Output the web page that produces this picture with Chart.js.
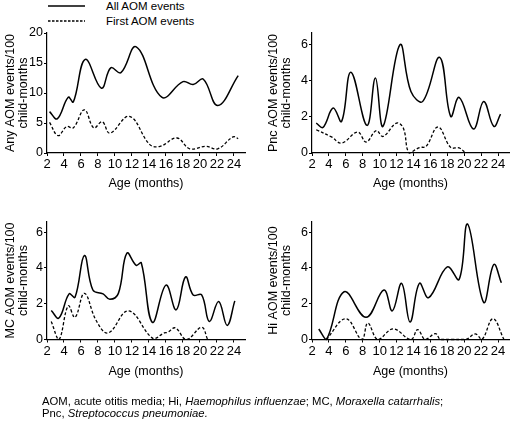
<!DOCTYPE html>
<html>
<head>
<meta charset="utf-8">
<script src="https://cdn.jsdelivr.net/npm/chart.js@4"></script>
<style>
  body { margin: 0; background: #fff; font-family: "Liberation Sans", Arial, sans-serif; color: #000; }
  #wrap { position: relative; width: 510px; height: 422px; overflow: hidden; }
  .panel { position: absolute; width: 255px; height: 200px; }
  .leg { position: absolute; font-size: 11.5px; line-height: 14px; }
  #caption { position: absolute; left: 42px; top: 395px; font-size: 11.3px; line-height: 12px; }
</style>
</head>
<body>
<div id="wrap">
  <svg style="position:absolute;left:0;top:0" width="100" height="30">
    <line x1="48" y1="6" x2="85" y2="6" stroke="#000" stroke-width="1.5"/>
    <line x1="48" y1="21" x2="85" y2="21" stroke="#000" stroke-width="1.3" stroke-dasharray="2.5,1.5"/>
  </svg>
  <div class="leg" style="left:106px;top:-1px">All AOM events</div>
  <div class="leg" style="left:106px;top:14px">First AOM events</div>

  <div class="panel" style="left:0;top:0"><canvas id="c1"></canvas></div>
  <div class="panel" style="left:255px;top:0"><canvas id="c2"></canvas></div>
  <div class="panel" style="left:0;top:188px"><canvas id="c3"></canvas></div>
  <div class="panel" style="left:255px;top:188px"><canvas id="c4"></canvas></div>

  <div id="caption">AOM, acute otitis media; Hi, <i>Haemophilus influenzae</i>; MC, <i>Moraxella catarrhalis</i>;<br>Pnc, <i>Streptococcus pneumoniae.</i></div>
</div>
<script>
// tick labels
const xTicks = [2, 4, 6, 8, 10, 12, 14, 16, 18, 20, 22, 24];
const anyTicks = [0, 5, 10, 15, 20];
const smallTicks = [0, 2, 4, 6];

// [age in months, events/100 child-months]
const anyAll = [[2.3,6.9],[3.2,5.7],[4.5,9.3],[5.1,8.5],[6.5,15.6],[8.4,10.8],[9.5,14.2],[10.7,13.4],[12.5,17.7],[15.5,9.3],[18.0,11.9],[19.2,11.4],[20.4,12.3],[22.1,7.9],[24.5,12.9]];
const anyFirst = [[2.3,5.1],[3.3,2.9],[4.3,4.4],[5.1,4.2],[6.4,7.2],[7.5,4.2],[8.5,5.2],[9.4,3.3],[11.7,6.1],[14.1,1.4],[15.3,1.1],[17.3,2.5],[18.8,0.7],[20.7,1.1],[22.1,0.7],[23.9,2.7],[24.5,2.4]];

const pncAll = [[2.5,1.66],[3.3,1.42],[4.5,2.49],[5.5,1.75],[6.6,4.48],[8.5,1.53],[9.5,4.15],[10.4,1.48],[12.4,6.0],[13.7,3.41],[15.1,2.86],[17.1,5.3],[18.4,2.03],[19.4,3.08],[21.1,1.33],[22.3,2.86],[23.5,1.48],[24.3,2.16]];
const pncFirst = [[2.5,1.29],[4.3,0.89],[5.5,0.55],[7.4,1.16],[8.4,0.61],[9.6,1.24],[10.4,0.92],[12.0,1.66],[12.8,1.38],[13.5,0],[14.7,0.3],[15.5,0.37],[16.9,1.44],[18.4,0.31],[19.4,0.28],[20.2,0]];

const mcAll = [[2.5,1.62],[3.4,1.2],[4.6,2.55],[5.3,2.36],[6.4,4.7],[7.4,2.77],[8.6,2.55],[9.4,2.25],[10.4,2.58],[11.4,4.83],[12.5,4.15],[13.1,4.28],[14.4,0.96],[16.0,3.04],[17.2,1.66],[18.3,3.5],[19.2,2.49],[20.2,2.49],[21.1,1.01],[22.2,2.12],[23.2,0.79],[24.1,2.16]];
const mcFirst = [[2.5,1.01],[3.4,0],[4.5,1.88],[5.3,1.24],[6.4,2.58],[7.8,1.05],[9.2,0.37],[11.6,1.6],[14.5,0.05],[15.8,0.37],[16.2,0.4],[17.1,0.65],[18.4,0],[20.2,0.68],[20.9,0]];

const hiAll = [[2.8,0.59],[3.7,0],[5.8,2.67],[8.4,1.24],[10.5,2.77],[11.5,1.6],[12.6,3.14],[13.6,0.98],[14.7,3.14],[15.8,2.34],[18.0,4.06],[19.4,3.36],[20.4,6.46],[22.3,2.08],[23.5,4.19],[24.4,3.17]];
const hiFirst = [[3.7,0],[6.0,1.16],[7.9,0],[8.6,0.92],[9.8,0],[11.6,0.59],[13.7,0],[14.5,0.55],[15.4,0],[16.6,0.33],[17.2,0],[18.5,0],[20.2,0],[21.3,0.31],[22.1,0],[23.4,1.16],[24.7,0]];

const FAMILY = '"Liberation Sans", Arial, sans-serif';

function pts(arr) {
    return arr.map(p => ({ x: p[0], y: p[1] }));
}

function makeChart(id, all, first, yTicks, yMax, yTitle, leftW, titlePad, padTop, padRight, bottomH) {
    const ctx = document.getElementById(id).getContext('2d');
    return new Chart(ctx, {
        type: 'line',
        data: {
            datasets: [{
                data: pts(all),
                borderColor: '#000',
                borderWidth: 1.5,
                pointRadius: 0,
                tension: 0.4,
                clip: 3
            }, {
                data: pts(first),
                borderColor: '#000',
                borderWidth: 1.3,
                borderDash: [3, 2],
                pointRadius: 0,
                tension: 0.4,
                clip: 3
            }]
        },
        options: {
            responsive: false,
            animation: false,
            devicePixelRatio: 1,
            layout: { padding: { top: padTop, right: padRight, left: 0, bottom: 0 } },
            plugins: { legend: { display: false }, tooltip: { enabled: false } },
            scales: {
                x: {
                    type: 'linear',
                    min: 2,
                    max: 25.3,
                    afterBuildTicks: s => { s.ticks = xTicks.map(v => ({ value: v })); },
                    afterFit: s => { s.height = bottomH; },
                    grid: { drawOnChartArea: false, drawTicks: true, tickLength: 3, tickColor: '#000', tickWidth: 1 },
                    border: { display: true, color: '#000', width: 1.2 },
                    ticks: { color: '#000', font: { family: FAMILY, size: 13 }, padding: 1, autoSkip: false, maxRotation: 0 },
                    title: { display: true, text: 'Age (months)', color: '#000', font: { family: FAMILY, size: 12.5, lineHeight: 1.05 }, padding: { top: 0, bottom: 10 } }
                },
                y: {
                    min: 0,
                    max: yMax,
                    afterBuildTicks: s => { s.ticks = yTicks.map(v => ({ value: v })); },
                    afterFit: s => { s.width = leftW; },
                    grid: { drawOnChartArea: false, drawTicks: true, tickLength: 3, tickColor: '#000', tickWidth: 1 },
                    border: { display: true, color: '#000', width: 1.2 },
                    ticks: { color: '#000', font: { family: FAMILY, size: 12.5 }, padding: 1 },
                    title: { display: true, text: yTitle, color: '#000', font: { family: FAMILY, size: 12.5, lineHeight: 1.05 }, padding: { top: titlePad, bottom: 0 } }
                }
            }
        }
    });
}

function sizeCanvas(id) {
    const c = document.getElementById(id);
    c.width = 255; c.height = 200;
    c.style.width = '255px'; c.style.height = '200px';
}
['c1', 'c2', 'c3', 'c4'].forEach(sizeCanvas);

makeChart('c1', anyAll, anyFirst, anyTicks, 20, ['Any AOM events/100', 'child-months'], 47, 3.5, 33, 10, 47);
makeChart('c2', pncAll, pncFirst, smallTicks, 6.65, ['Pnc AOM events/100', 'child-months'], 57, 11.5, 33, 1, 47);
makeChart('c3', mcAll, mcFirst, smallTicks, 6.6, ['MC AOM events/100', 'child-months'], 47, 3.5, 33.5, 10, 48.5);
makeChart('c4', hiAll, hiFirst, smallTicks, 6.6, ['Hi AOM events/100', 'child-months'], 57, 11.5, 33.5, 1, 48.5);
</script>
</body>
</html>
